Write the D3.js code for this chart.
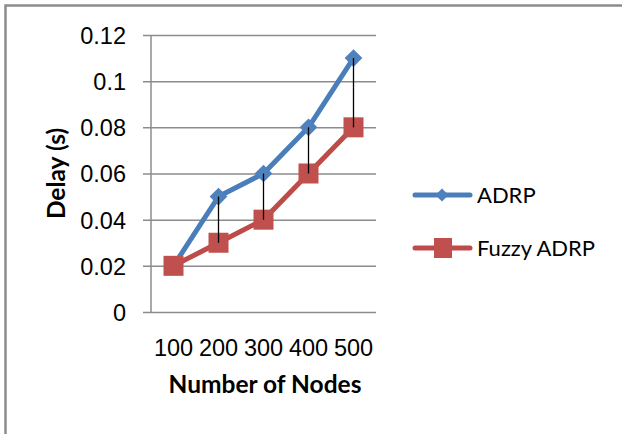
<!DOCTYPE html>
<html>
<head>
<meta charset="utf-8">
<script src="https://cdn.jsdelivr.net/npm/d3@7"></script>
<style>
  html, body { margin: 0; padding: 0; background: #fff; }
  svg { display: block; font-family: Lato, "Open Sans", sans-serif; }
</style>
</head>
<body>
<div id="chart"></div>
<script>
// ── Data ─────────────────────────────────────────────────────────────────
const nodes = ["100", "200", "300", "400", "500"];
const adrp = [0.02, 0.05, 0.06, 0.08, 0.11];
const fuzzyAdrp = [0.02, 0.03, 0.04, 0.06, 0.08];
const yTicks = [0, 0.02, 0.04, 0.06, 0.08, 0.1, 0.12];
const seriesNames = ["ADRP", "Fuzzy ADRP"];

const W = 622, H = 434;
const plot = { left: 151, right: 376, top: 35, bottom: 312 };
const blue = "#4A7EBB", blueFill = "#4F81BD";
const red = "#BE4B48", redFill = "#C0504D";
const grid = "#8c8c8c";

const svg = d3.select("#chart").append("svg")
  .attr("width", W).attr("height", H);

// ── Frame ────────────────────────────────────────────────────────────────
svg.append("path")
  .attr("d", `M5.5,${H + 5} V5.5 H${W + 5}`)
  .attr("fill", "none").attr("stroke", grid).attr("stroke-width", 2.5);

// ── Scales ───────────────────────────────────────────────────────────────
const x = d3.scaleBand().domain(nodes).range([plot.left, plot.right]);
const y = d3.scaleLinear().domain([0, 0.12]).range([plot.bottom, plot.top]);
const cx = (d) => x(d) + x.bandwidth() / 2;

// ── Gridlines + y axis ───────────────────────────────────────────────────
const yAxis = d3.axisLeft(y).tickValues(yTicks)
  .tickSize(-(plot.right - plot.left))
  .tickFormat((d) => String(+d.toFixed(2)));
const yg = svg.append("g").attr("transform", `translate(${plot.left},0)`).call(yAxis);
yg.select(".domain").remove();
yg.selectAll(".tick line")
  .attr("x1", -8).attr("stroke", grid).attr("stroke-width", 1.5);
yg.selectAll(".tick text")
  .attr("fill", "#000").style("font-size", "23.5px")
  .attr("x", -25).attr("dy", "0.36em");

svg.append("line")
  .attr("x1", plot.left).attr("x2", plot.left)
  .attr("y1", plot.top).attr("y2", plot.bottom)
  .attr("stroke", grid).attr("stroke-width", 1.5);

// ── X axis labels ────────────────────────────────────────────────────────
const xAxis = d3.axisBottom(x).tickSize(0).tickPadding(0);
const xg = svg.append("g").attr("transform", `translate(0,${plot.bottom})`).call(xAxis);
xg.select(".domain").remove();
xg.selectAll(".tick text")
  .attr("fill", "#000").style("font-size", "23.5px")
  .attr("y", 44).attr("dy", 0);

// ── Lines + markers ──────────────────────────────────────────────────────
const line = d3.line().x((d, i) => cx(nodes[i])).y((d) => y(d));

svg.append("path").datum(adrp)
  .attr("d", line).attr("fill", "none")
  .attr("stroke", blue).attr("stroke-width", 5).attr("stroke-linejoin", "round");
svg.append("g").selectAll("path").data(adrp).join("path")
  .attr("transform", (d, i) => `translate(${cx(nodes[i])},${y(d)})`)
  .attr("d", d3.symbol(d3.symbolDiamond2, 200)())
  .attr("fill", blueFill);

svg.append("path").datum(fuzzyAdrp)
  .attr("d", line).attr("fill", "none")
  .attr("stroke", red).attr("stroke-width", 5).attr("stroke-linejoin", "round");
svg.append("g").selectAll("rect").data(fuzzyAdrp).join("rect")
  .attr("x", (d, i) => cx(nodes[i]) - 10).attr("y", (d) => y(d) - 10)
  .attr("width", 20).attr("height", 20)
  .attr("fill", redFill);

// ── High-low lines ───────────────────────────────────────────────────────
svg.append("g").selectAll("line").data(nodes).join("line")
  .attr("x1", (d) => cx(d)).attr("x2", (d) => cx(d))
  .attr("y1", (d, i) => y(adrp[i])).attr("y2", (d, i) => y(fuzzyAdrp[i]))
  .attr("stroke", "#000").attr("stroke-width", 1.3);

// ── Axis titles ──────────────────────────────────────────────────────────
svg.append("text")
  .attr("transform", `translate(65,${(plot.top + plot.bottom) / 2}) rotate(-90)`)
  .attr("text-anchor", "middle")
  .style("font-size", "24.5px").style("font-weight", "700")
  .text("Delay (s)");

svg.append("text")
  .attr("x", 265).attr("y", 393)
  .attr("text-anchor", "middle")
  .style("font-size", "24.5px").style("font-weight", "700")
  .text("Number of Nodes");

// ── Legend ───────────────────────────────────────────────────────────────
const legend = svg.append("g");
const legendY = [195, 248];
seriesNames.forEach((name, i) => {
  const g = legend.append("g").attr("transform", `translate(0,${legendY[i]})`);
  g.append("line").attr("x1", 415).attr("x2", 470)
    .attr("stroke", i === 0 ? blue : red).attr("stroke-width", 5)
    .attr("stroke-linecap", "round");
  if (i === 0) {
    g.append("path").attr("transform", "translate(442,0)")
      .attr("d", d3.symbol(d3.symbolDiamond2, 110)())
      .attr("fill", blueFill);
  } else {
    g.append("rect").attr("x", 434).attr("y", -10)
      .attr("width", 18).attr("height", 20).attr("fill", redFill);
  }
  g.append("text").attr("x", 477).attr("dy", "0.36em")
    .style("font-size", "22px").text(name);
});
</script>
</body>
</html>
